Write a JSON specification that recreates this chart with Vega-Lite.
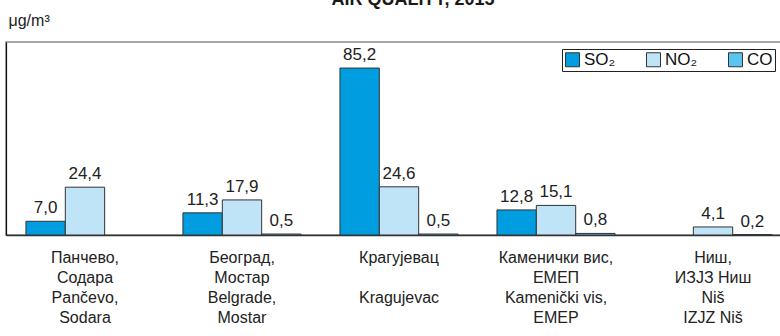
{
  "$schema": "https://vega.github.io/schema/vega-lite/v6.json",
  "autosize": "none",
  "width": 786,
  "height": 193,
  "padding": {"left": 6, "top": 42, "right": 0, "bottom": 101},
  "background": "white",
  "title": {
    "text": "AIR QUALITY, 2015",
    "fontSize": 18,
    "fontWeight": "bold",
    "font": "Liberation Sans",
    "color": "#1a1a1a",
    "anchor": "middle",
    "baseline": "alphabetic",
    "dx": 14,
    "dy": 11,
    "offset": 0
  },
  "data": {
    "values": [
      {"site": "Панчево,|Содара|Pančevo,|Sodara", "series": "SO₂", "value": 7.0},
      {"site": "Панчево,|Содара|Pančevo,|Sodara", "series": "NO₂", "value": 24.4},
      {"site": "Београд,|Мостар|Belgrade,|Mostar", "series": "SO₂", "value": 11.3},
      {"site": "Београд,|Мостар|Belgrade,|Mostar", "series": "NO₂", "value": 17.9},
      {"site": "Београд,|Мостар|Belgrade,|Mostar", "series": "CO", "value": 0.5},
      {"site": "Крагујевац|\u200b|Kragujevac", "series": "SO₂", "value": 85.2},
      {"site": "Крагујевац|\u200b|Kragujevac", "series": "NO₂", "value": 24.6},
      {"site": "Крагујевац|\u200b|Kragujevac", "series": "CO", "value": 0.5},
      {"site": "Каменички вис,|ЕМЕП|Kamenički vis,|EMEP", "series": "SO₂", "value": 12.8},
      {"site": "Каменички вис,|ЕМЕП|Kamenički vis,|EMEP", "series": "NO₂", "value": 15.1},
      {"site": "Каменички вис,|ЕМЕП|Kamenički vis,|EMEP", "series": "CO", "value": 0.8},
      {"site": "Ниш,|ИЗЈЗ Ниш|Niš|IZJZ Niš", "series": "NO₂", "value": 4.1},
      {"site": "Ниш,|ИЗЈЗ Ниш|Niš|IZJZ Niš", "series": "CO", "value": 0.2}
    ]
  },
  "encoding": {
    "x": {
      "field": "site",
      "type": "nominal",
      "sort": null,
      "scale": {"paddingInner": 0.248, "paddingOuter": 0.127},
      "axis": {
        "title": null,
        "labelExpr": "split(datum.label, '|')",
        "labelAngle": 0,
        "labelBaseline": "top",
        "labelPadding": 14,
        "labelLineHeight": 20.3,
        "labelFontSize": 16,
        "labelFont": "Liberation Sans",
        "labelColor": "#222",
        "ticks": false,
        "domainColor": "#333",
        "domainWidth": 1.5
      }
    },
    "xOffset": {"field": "series", "type": "nominal", "sort": ["SO₂", "NO₂", "CO"], "scale": {"domain": ["SO₂", "NO₂", "CO"]}},
    "y": {
      "field": "value",
      "type": "quantitative",
      "scale": {"domain": [0, 98.5], "nice": false},
      "axis": {
        "title": "μg/m³",
        "titleAngle": 0,
        "titleX": 2,
        "titleY": -17,
        "titleAlign": "left",
        "titleBaseline": "alphabetic",
        "titleFontWeight": "normal",
        "titleFontSize": 16,
        "titleFont": "Liberation Sans",
        "titleColor": "#222",
        "labels": false,
        "ticks": false,
        "grid": false,
        "domainColor": "#111",
        "domainWidth": 1.2
      }
    }
  },
  "layer": [
    {
      "mark": {"type": "bar", "stroke": "#333", "strokeWidth": 1},
      "encoding": {
        "color": {
          "field": "series",
          "type": "nominal",
          "scale": {"domain": ["SO₂", "NO₂", "CO"], "range": ["#009EE0", "#BFE3F7", "#5BC5F1"]},
          "legend": {
            "title": null,
            "orient": "none",
            "direction": "horizontal",
            "legendX": 556,
            "legendY": 7,
            "strokeColor": "#222",
            "fillColor": "white",
            "padding": 2,
            "symbolType": "square",
            "symbolSize": 196,
            "symbolStrokeColor": "#333",
            "symbolStrokeWidth": 1,
            "symbolOpacity": 1,
            "labelFontSize": 17,
            "labelFont": "Liberation Sans",
            "labelColor": "#111",
            "labelOffset": 3,
            "columnPadding": 28
          }
        }
      }
    },
    {
      "mark": {"type": "text", "baseline": "alphabetic", "dy": -8, "fontSize": 17, "font": "Liberation Sans", "color": "#222"},
      "encoding": {
        "text": {"field": "value", "type": "quantitative", "format": ".1f"}
      }
    }
  ],
  "config": {
    "locale": {"number": {"decimal": ",", "thousands": ".", "grouping": [3], "currency": ["", ""]}},
    "view": {"stroke": "#888", "strokeWidth": 1.5}
  }
}
